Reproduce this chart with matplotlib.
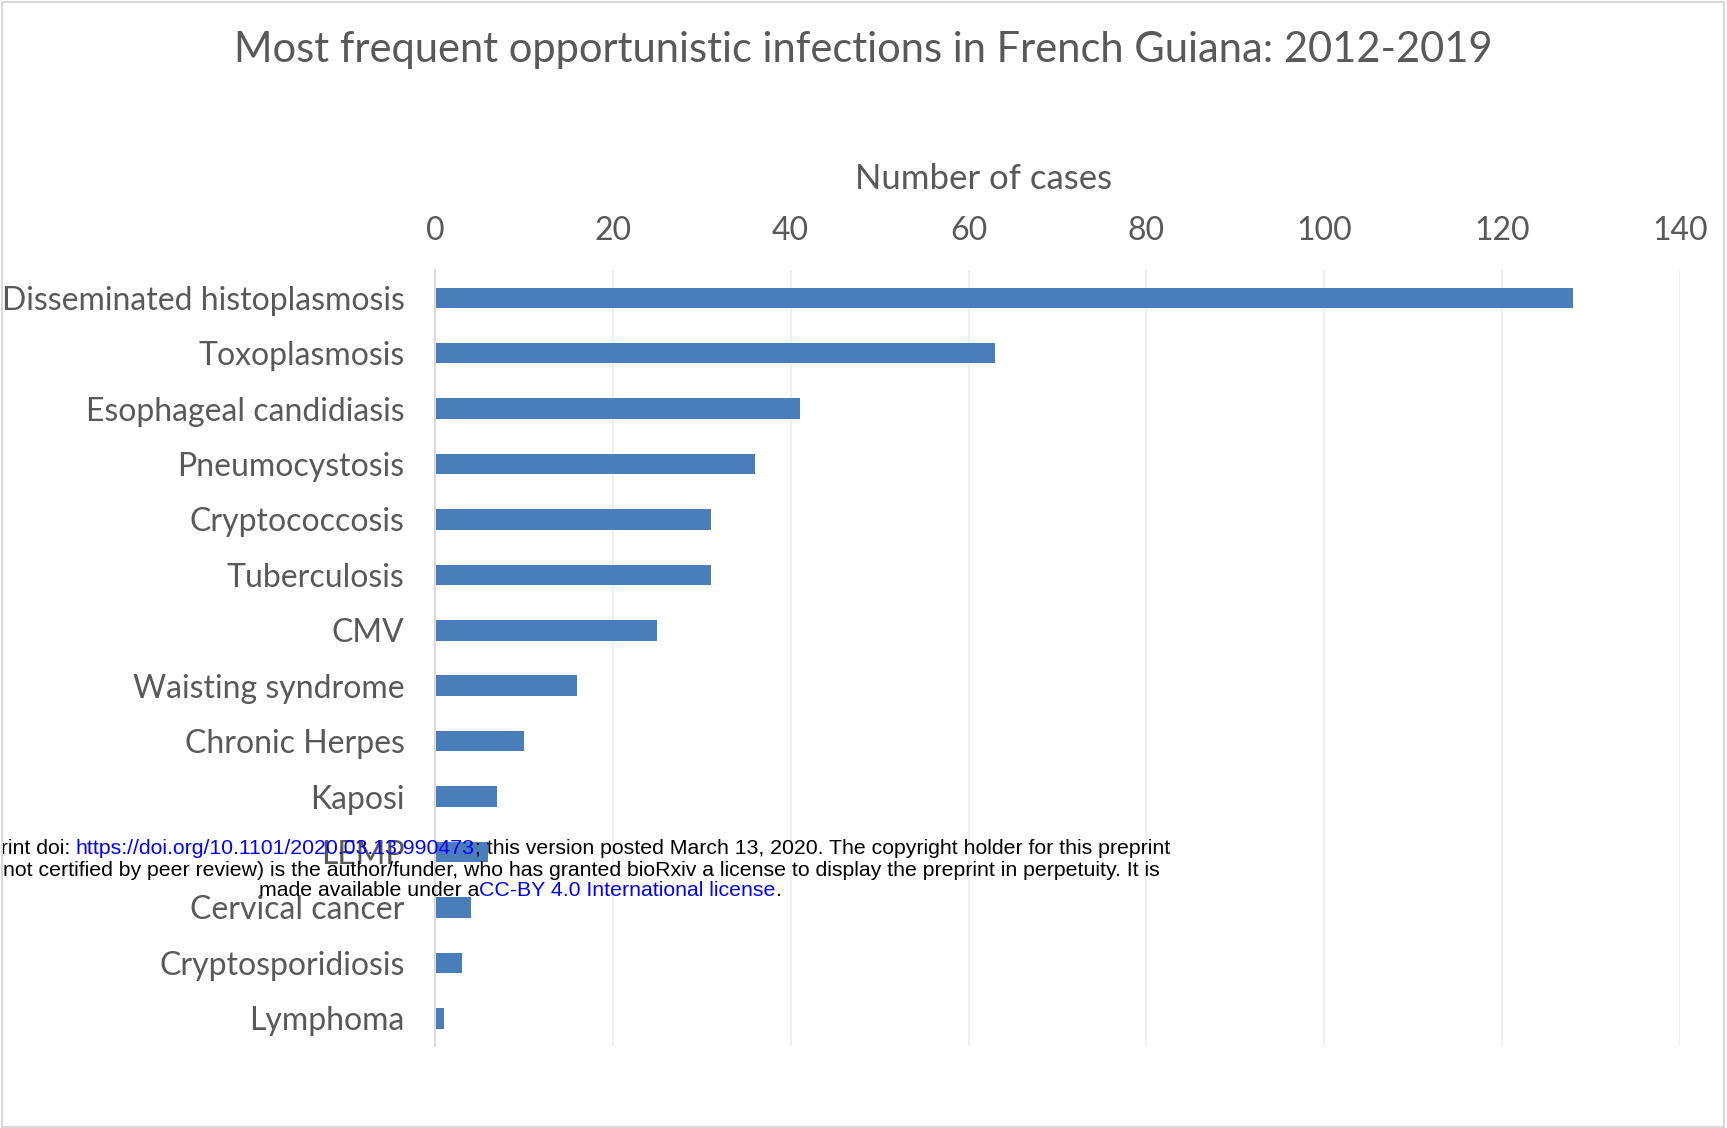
import numpy as np
from matplotlib import pyplot as plt
from matplotlib.patches import Rectangle

# data
infections = ['Disseminated histoplasmosis', 'Toxoplasmosis', 'Esophageal candidiasis',
              'Pneumocystosis', 'Cryptococcosis', 'Tuberculosis', 'CMV',
              'Waisting syndrome', 'Chronic Herpes', 'Kaposi', 'LEMP',
              'Cervical cancer', 'Cryptosporidiosis', 'Lymphoma']
cases = [128, 63, 41, 36, 31, 31, 25, 16, 10, 7, 6, 4, 3, 1]
xticks = [0, 20, 40, 60, 80, 100, 120, 140]

grey = '#595959'
bar_color = '#4a7ebb'
plt.rcParams['font.family'] = ['Lato', 'DejaVu Sans']

fig = plt.figure(figsize=(17.27, 11.28), dpi=100)
ax = fig.add_axes([0.2519, 0.0727, 0.7209, 0.6879])

y = np.arange(len(infections))
ax.barh(y, cases, height=0.37, color=bar_color)
ax.set_ylim(len(infections) - 0.5, -0.5)
ax.set_xlim(0, 140)
ax.set_yticks(y)
ax.set_yticklabels(infections, fontsize=23, color=grey)
ax.set_xticks(xticks)
ax.set_xticklabels([str(t) for t in xticks], fontsize=23, color=grey)
ax.xaxis.tick_top()
ax.xaxis.set_label_position('top')
ax.set_xlabel('Number of cases', fontsize=25, color=grey)
ax.xaxis.set_label_coords(0.4407, 1.104)
ax.tick_params(axis='both', length=0)
ax.tick_params(axis='x', pad=17)
ax.tick_params(axis='y', pad=22)
ax.grid(axis='x', color='#ececec', linewidth=1.2)
ax.set_axisbelow(True)
for s in ['top', 'right', 'bottom']:
    ax.spines[s].set_visible(False)
ax.spines['left'].set_color('#d9d9d9')
ax.spines['left'].set_linewidth(1.5)

fig.text(0.5, 0.956, 'Most frequent opportunistic infections in French Guiana: 2012-2019',
         ha='center', va='center', fontsize=30, color=grey)

# faint chart border
fig.patches.append(Rectangle((0.001, 0.001), 0.997, 0.997, transform=fig.transFigure,
                             fill=False, edgecolor='#d9d9d9', linewidth=1.5))

# bioRxiv overlay
kw = dict(fontsize=15.3, family=['Liberation Sans', 'DejaVu Sans'])
t1 = fig.text(1170 / 1727, 1 - 849 / 1128,
              '; this version posted March 13, 2020. The copyright holder for this preprint',
              ha='right', va='center', color='black', **kw)
t2 = plt.annotate('https://doi.org/10.1101/2020.03.13.990473', xy=(0, 0), xycoords=t1,
                  ha='right', va='bottom', color='blue', annotation_clip=False, **kw)
plt.annotate('bioRxiv preprint doi: ', xy=(0, 0), xycoords=t2,
             ha='right', va='bottom', color='black', annotation_clip=False, **kw)
fig.text(1160 / 1727, 1 - 870 / 1128,
         '(which was not certified by peer review) is the author/funder, who has granted '
         'bioRxiv a license to display the preprint in perpetuity. It is',
         ha='right', va='center', color='black', **kw)
t3 = fig.text(259 / 1727, 1 - 891 / 1128, 'made available under a',
              ha='left', va='center', color='black', **kw)
t4 = plt.annotate('CC-BY 4.0 International license', xy=(1, 0), xycoords=t3,
                  ha='left', va='bottom', color='blue', annotation_clip=False, **kw)
plt.annotate('.', xy=(1, 0), xycoords=t4, ha='left', va='bottom', color='black',
             annotation_clip=False, **kw)

fig.savefig('out.png', dpi=100)
